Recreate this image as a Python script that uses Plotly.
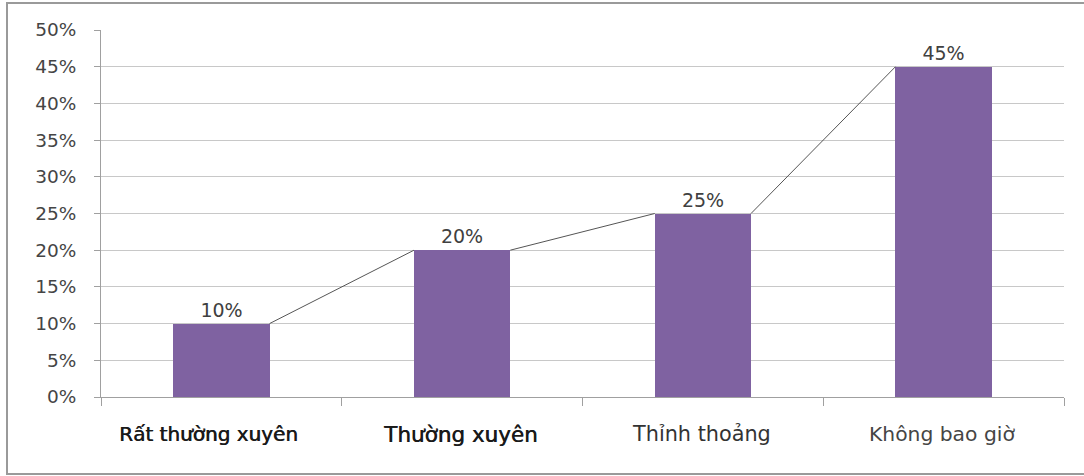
import plotly.graph_objects as go

# Survey answers and their shares (%)
categories = ["Rất thường xuyên", "Thường xuyên", "Thỉnh thoảng", "Không bao giờ"]
shares = [10, 20, 25, 45]
bar_labels = ["10%", "20%", "25%", "45%"]
y_ticks = [0, 5, 10, 15, 20, 25, 30, 35, 40, 45, 50]
y_tick_labels = [f"{v}%" for v in y_ticks]

BAR_W = 0.4
positions = list(range(len(categories)))
FONT = "DejaVu Sans, Verdana, sans-serif"

# connector line joining the top corners of neighbouring bars
line_x, line_y = [], []
for i in range(len(shares) - 1):
    line_x += [positions[i] + BAR_W / 2, positions[i + 1] - BAR_W / 2, None]
    line_y += [shares[i], shares[i + 1], None]

fig = go.Figure()
fig.add_trace(go.Bar(
    x=positions, y=shares, width=BAR_W,
    marker=dict(color="#7f62a1", line=dict(width=0)),
    text=bar_labels, textposition="outside", cliponaxis=False,
    textfont=dict(family=FONT, size=19, color="#404040"),
    hoverinfo="skip",
))
fig.add_trace(go.Scatter(
    x=line_x, y=line_y, mode="lines",
    line=dict(color="#555555", width=1), hoverinfo="skip",
))

# first two labels are set heavier than the last two
label_styles = [
    dict(size=20, color="#1a1a1a", shift=-13, shadow="0.6px 0px 0px #1a1a1a"),
    dict(size=21.5, color="#1a1a1a", shift=-2, shadow="0.6px 0px 0px #1a1a1a"),
    dict(size=20.8, color="#333333", shift=-1, shadow="none"),
    dict(size=20.3, color="#454545", shift=-2, shadow="none"),
]
for p, name, st in zip(positions, categories, label_styles):
    fig.add_annotation(
        x=p, y=0, xref="x", yref="paper", yanchor="top", yshift=-23,
        xshift=st["shift"], text=name, showarrow=False,
        font=dict(family=FONT, size=st["size"], color=st["color"],
                  shadow=st["shadow"]),
    )

fig.update_layout(
    width=1084, height=476,
    margin=dict(l=101, r=20, t=30, b=79),
    paper_bgcolor="white", plot_bgcolor="white",
    showlegend=False, bargap=0,
    shapes=[dict(type="rect", xref="paper", yref="paper",
                 x0=-94 / 963, x1=1 + 22 / 963, y0=-77 / 367, y1=1 + 27 / 367,
                 line=dict(color="#9a9a9a", width=2))],
)
fig.update_xaxes(
    range=[-0.5, 3.5], showticklabels=False,
    tickvals=[-0.5, 0.5, 1.5, 2.5, 3.5], ticks="outside", ticklen=8,
    tickcolor="#a0a0a0", showgrid=False, zeroline=False,
    showline=True, linecolor="#a0a0a0", linewidth=1,
)
fig.update_yaxes(
    range=[0, 50], tickvals=y_ticks, ticktext=y_tick_labels,
    ticks="outside", ticklen=6, tickcolor="#a0a0a0",
    ticklabelstandoff=14,
    tickfont=dict(family=FONT, size=18.5, color="#454545"),
    showgrid=True, gridcolor="#c8c8c8", gridwidth=1, zeroline=False,
    showline=True, linecolor="#a0a0a0", linewidth=1,
)

fig.write_html("out.html")
